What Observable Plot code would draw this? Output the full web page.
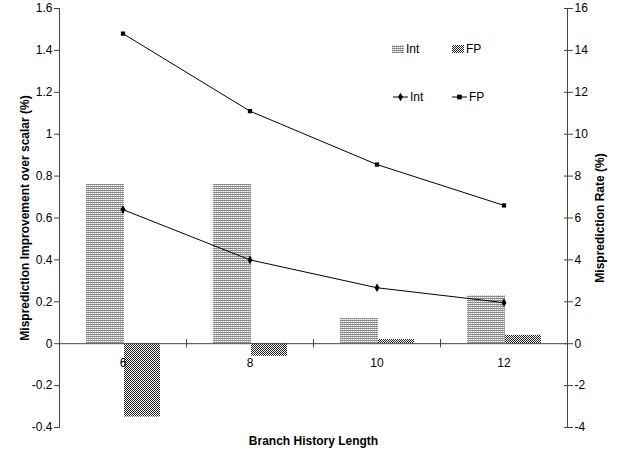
<!DOCTYPE html>
<html>
<head>
<meta charset="utf-8">
<script src="https://cdn.jsdelivr.net/npm/d3@7"></script>
<script src="https://cdn.jsdelivr.net/npm/@observablehq/plot@0.6"></script>
<style>
  body { margin: 0; background: white; }
  #chart { position: relative; width: 618px; height: 454px; }
  g[aria-label="y-axis label"] text { font-weight: bold; }
</style>
</head>
<body>
<svg width="0" height="0" style="position:absolute">
  <defs>
    <pattern id="intPat" width="2" height="2" patternUnits="userSpaceOnUse">
      <rect width="2" height="2" fill="#ffffff"/>
      <rect x="0" y="0" width="2" height="1" fill="#8a8a8a"/>
      <rect x="0" y="1" width="1" height="1" fill="#c4c4c4"/>
    </pattern>
    <pattern id="fpPat" width="2" height="2" patternUnits="userSpaceOnUse">
      <rect width="2" height="2" fill="#ffffff"/>
      <rect x="0" y="0" width="1" height="1" fill="#222222"/>
      <rect x="1" y="1" width="1" height="1" fill="#222222"/>
    </pattern>
  </defs>
</svg>
<div id="chart"></div>
<script>
const categories = ["6", "8", "10", "12"];
const intImprove = [0.76, 0.76, 0.12, 0.23];
const fpImprove = [-0.35, -0.06, 0.02, 0.04];
const intRate = [6.4, 4.0, 2.67, 1.96];
const fpRate = [14.8, 11.1, 8.55, 6.6];
const leftTicks = [-0.4, -0.2, 0, 0.2, 0.4, 0.6, 0.8, 1, 1.2, 1.4, 1.6];
const rightTicks = [-4, -2, 0, 2, 4, 6, 8, 10, 12, 14, 16];
const boundaryCats = ["8", "10", "12"];

const rows = categories.map((c, i) => ({
  cat: c, intImp: intImprove[i], fpImp: fpImprove[i], intRate: intRate[i], fpRate: fpRate[i]
}));
const rateScale = 10; // right axis units per left axis unit
const fmt = d => String(Math.round(d * 10) / 10);

const W = 618, H = 454, mL = 59, mR = 51;
const bandHalf = (W - mL - mR) / categories.length / 2;

const plot = Plot.plot({
  width: W, height: H,
  marginLeft: mL, marginRight: mR, marginTop: 8, marginBottom: 27,
  style: { fontFamily: "'Liberation Sans', Arial, sans-serif", fontSize: "12px", color: "black", background: "white" },
  x: { domain: categories, padding: 0, axis: null },
  y: { domain: [-0.4, 1.6], axis: null },
  marks: [
    Plot.barY(rows, { x: "cat", y: "intImp", fill: "url(#intPat)", insetLeft: 27, insetRight: 62 }),
    Plot.barY(rows, { x: "cat", y: "fpImp", fill: "url(#fpPat)", insetLeft: 65, insetRight: 26 }),
    Plot.ruleY([0], { stroke: "#444", strokeWidth: 1 }),
    Plot.ruleX(boundaryCats, { x: d => d, y1: -0.02, y2: 0.02, dx: -bandHalf, stroke: "#444" }),
    Plot.frame({ anchor: "left", stroke: "#444" }),
    Plot.frame({ anchor: "right", stroke: "#444" }),
    Plot.axisY({
      anchor: "left", ticks: leftTicks, tickFormat: fmt, tickSize: 5, tickPadding: 2,
      label: "Misprediction Improvement over scalar (%)", labelAnchor: "center", labelArrow: "none", labelOffset: 39, stroke: "#444"
    }),
    Plot.axisY({
      anchor: "right", ticks: rightTicks.map(d => d / rateScale), tickFormat: d => fmt(d * rateScale), tickSize: 5, tickPadding: 2,
      label: "Misprediction Rate (%)", labelAnchor: "center", labelArrow: "none", labelOffset: 36, stroke: "#444"
    }),
    Plot.axisY({
      anchor: "right", ticks: rightTicks.map(d => d / rateScale), tickFormat: () => "", tickSize: 4, dx: -4, label: null, stroke: "#444"
    }),
    Plot.line(rows, { x: "cat", y: d => d.intRate / rateScale, stroke: "black", strokeWidth: 1 }),
    Plot.line(rows, { x: "cat", y: d => d.fpRate / rateScale, stroke: "black", strokeWidth: 1 }),
    Plot.dot(rows, { x: "cat", y: d => d.intRate / rateScale, symbol: "diamond", r: 2.6, fill: "black" }),
    Plot.dot(rows, { x: "cat", y: d => d.fpRate / rateScale, symbol: "square", r: 2.4, fill: "black" }),
    Plot.text(rows, { x: "cat", y: 0, text: "cat", dy: 19, fontSize: 12 }),
    Plot.text(["Branch History Length"], { text: d => d, frameAnchor: "bottom", dy: 17, fontWeight: "bold", fontSize: 12 })
  ]
});

// Legend inside plot area
const svg = d3.select(plot);
const lg = svg.append("g")
  .attr("font-size", 12)
  .attr("font-family", "'Liberation Sans', Arial, sans-serif")
  .attr("text-anchor", "start");
const barLegend = [
  { label: "Int", fill: "url(#intPat)", x: 392 },
  { label: "FP", fill: "url(#fpPat)", x: 452 }
];
barLegend.forEach(d => {
  lg.append("rect").attr("x", d.x).attr("y", 45).attr("width", 12).attr("height", 8).attr("fill", d.fill);
  lg.append("text").attr("x", d.x + 14).attr("y", 49).attr("dy", "0.35em").attr("text-anchor", "start").text(d.label);
});
const lineLegend = [
  { label: "Int", symbol: d3.symbolDiamond, x: 393 },
  { label: "FP", symbol: d3.symbolSquare, x: 452 }
];
lineLegend.forEach(d => {
  lg.append("line").attr("x1", d.x).attr("x2", d.x + 15).attr("y1", 97).attr("y2", 97).attr("stroke", "black");
  lg.append("path").attr("d", d3.symbol(d.symbol, 22)()).attr("transform", `translate(${d.x + 7.5},97)`).attr("fill", "black");
  lg.append("text").attr("x", d.x + 17).attr("y", 97).attr("dy", "0.35em").attr("text-anchor", "start").text(d.label);
});

document.getElementById("chart").appendChild(plot);
</script>
</body>
</html>
